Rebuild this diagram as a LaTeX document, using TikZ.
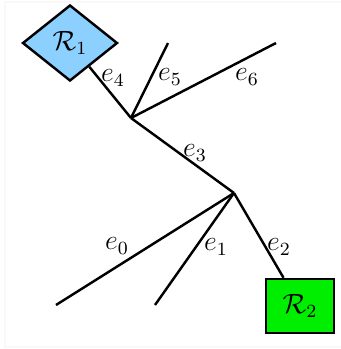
\documentclass[tikz,border=0pt]{standalone}
\usetikzlibrary{shapes.geometric}
\definecolor{rblue}{RGB}{140,208,255}
\definecolor{rgreen}{RGB}{0,238,0}
\begin{document}
\begin{tikzpicture}[x=0.43pt,y=-0.43pt,font=\large,
  edgeline/.style={line width=1.05pt},
  lbl/.style={inner sep=0pt},
  rdiamond/.style={diamond,draw,line width=1.05pt,fill=rblue,minimum width=95*0.43pt,minimum height=76*0.43pt,inner sep=0pt},
  rsquare/.style={rectangle,draw,line width=1.05pt,fill=rgreen,minimum width=68*0.43pt,minimum height=54*0.43pt,inner sep=0pt}]
\useasboundingbox (0,0) rectangle (341,349);
\draw[gray!5,line width=0.6pt] (5,2) rectangle (350,347);
\node[rdiamond] (R1) at (70,43) {$\mathcal{R}_1$};
\node[rsquare] (R2) at (300,306) {$\mathcal{R}_2$};
\coordinate (A) at (131,118);
\coordinate (B) at (234,193);
\coordinate (E5) at (168,43);
\coordinate (E6) at (276,43);
\coordinate (E0) at (56,305);
\coordinate (E1) at (155,305);
\draw[edgeline] (R1) -- (A);
\draw[edgeline] (A) -- (E5);
\draw[edgeline] (A) -- (E6);
\draw[edgeline] (A) -- (B);
\draw[edgeline] (B) -- (E0);
\draw[edgeline] (B) -- (E1);
\draw[edgeline] (B) -- (R2);
\node[lbl] (l4) at (113,78) {$e_4$};
\node[lbl] (l5) at (170,77) {$e_5$};
\node[lbl] (l6) at (247,77) {$e_6$};
\node[lbl] (l3) at (195,153) {$e_3$};
\node[lbl] (l0) at (117,246) {$e_0$};
\node[lbl] (l1) at (216,247) {$e_1$};
\node[lbl] (l2) at (279,247) {$e_2$};
\end{tikzpicture}
\end{document}
